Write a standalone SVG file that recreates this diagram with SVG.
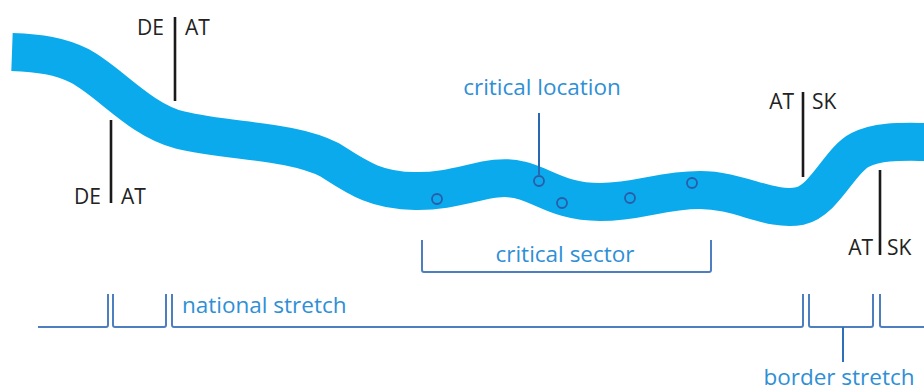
<svg xmlns="http://www.w3.org/2000/svg" width="924" height="392" viewBox="0 0 924 392">
<style>
.river{fill:none;stroke:#0aaaec;stroke-width:38;stroke-linecap:butt;stroke-linejoin:round}
.border{stroke:#1a1a1a;stroke-width:2.6;fill:none}
.lbl{font-family:"Open Sans","Liberation Sans",sans-serif;font-size:21px;fill:#222}
.blue{font-family:"Open Sans","Liberation Sans",sans-serif;font-size:22.5px;fill:#2f8fd6}
.brk{fill:none;stroke:#4d7fc0;stroke-width:2;stroke-linejoin:round}
.site{fill:none;stroke:#2a5ca8;stroke-width:1.8}
.end{text-anchor:end}
.mid{text-anchor:middle}
</style>
<g id="river">
<path class="river" d="M12,52 C40,53 60,56 80,66 C110,82 140,120 180,130 C230,142 290,140 330,160 C355,176 375,191 415,191 C460,192 490,172 520,180 C545,186 560,202 600,202 C640,202 660,190 700,190 C740,190 770,212 800,206 C825,200 840,160 860,150 C880,140 905,142 930,142"/>
</g>
<g id="sites">
<circle class="site" cx="437" cy="199" r="5"/>
<circle class="site" cx="539" cy="181" r="5"/>
<circle class="site" cx="562" cy="203" r="5"/>
<circle class="site" cx="630" cy="198" r="5"/>
<circle class="site" cx="692" cy="183" r="5"/>
</g>
<g id="border-de-at-1">
<line class="border" x1="175" y1="17" x2="175" y2="101"/>
<text class="lbl end" x="164" y="35">DE</text>
<text class="lbl" x="185" y="35">AT</text>
</g>
<g id="border-de-at-2">
<line class="border" x1="111" y1="120" x2="111" y2="203"/>
<text class="lbl end" x="101" y="204">DE</text>
<text class="lbl" x="121" y="204">AT</text>
</g>
<g id="border-at-sk-1">
<line class="border" x1="803" y1="92" x2="803" y2="177"/>
<text class="lbl end" x="794" y="109">AT</text>
<text class="lbl" x="812" y="109">SK</text>
</g>
<g id="border-at-sk-2">
<line class="border" x1="880" y1="170" x2="880" y2="255"/>
<text class="lbl end" x="873" y="255">AT</text>
<text class="lbl" x="887" y="255">SK</text>
</g>
<g id="critical-location">
<text class="blue mid" x="542" y="95">critical location</text>
</g>
<g id="critical-sector">
<text class="blue mid" x="565" y="262">critical sector</text>
</g>
<g id="national-stretch">
<text class="blue" x="182" y="313">national stretch</text>
</g>
<g id="border-stretch">
<text class="blue mid" x="839" y="385">border stretch</text>
</g>
<g id="connectors">
<line x1="539" y1="113" x2="539" y2="176" stroke="#2867b2" stroke-width="2"/>
<path class="brk" d="M422,240 V270 Q422,272 424,272 H709 Q711,272 711,270 V240"/>
<path class="brk" d="M38,327 H106 Q108,327 108,325 V294"/>
<path class="brk" d="M113,294 V325 Q113,327 115,327 H164 Q166,327 166,325 V294"/>
<path class="brk" d="M172,294 V325 Q172,327 174,327 H801 Q803,327 803,325 V294"/>
<path class="brk" d="M809,294 V325 Q809,327 811,327 H871 Q873,327 873,325 V294"/>
<path class="brk" d="M880,294 V325 Q880,327 882,327 H930"/>
<line x1="843" y1="327" x2="843" y2="362" stroke="#2d6fb8" stroke-width="2"/>
</g>
</svg>
